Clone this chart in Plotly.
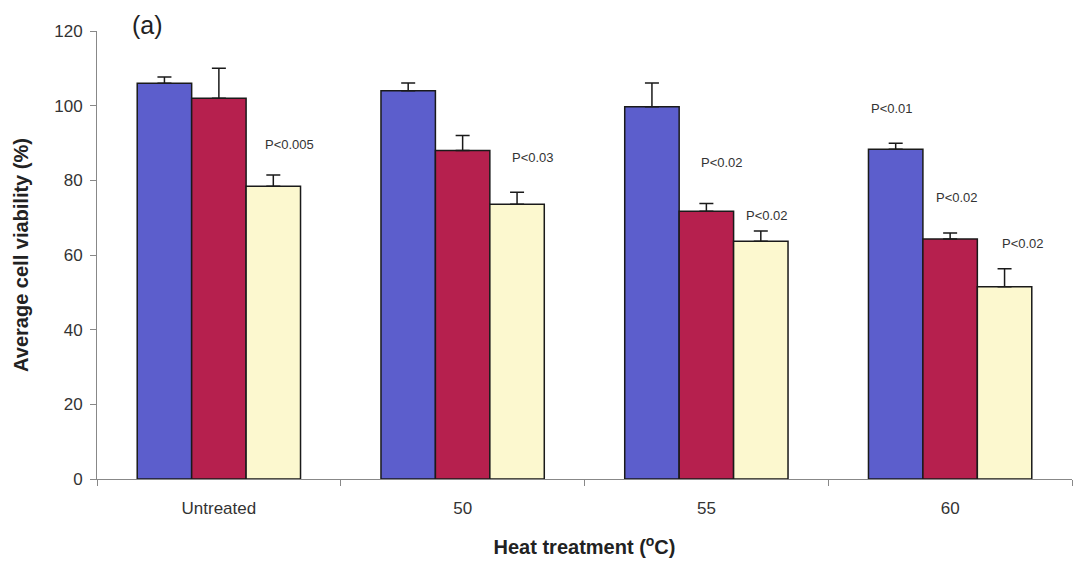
import plotly.graph_objects as go

categories = ["Untreated", "50", "55", "60"]
series_names = ["Series A", "Series B", "Series C"]
values_blue = [106, 104, 99.7, 88.3]
errors_blue = [1.7, 2.1, 6.4, 1.6]
values_red = [102, 88, 71.7, 64.3]
errors_red = [8, 4, 2.1, 1.6]
values_yellow = [78.4, 73.6, 63.7, 51.5]
errors_yellow = [3, 3.2, 2.7, 4.8]

p_labels = ["P<0.005", "P<0.03", "P<0.02", "P<0.02", "P<0.01", "P<0.02", "P<0.02"]
p_category = [0, 1, 2, 2, 3, 3, 3]
p_offset = [0.29, 0.29, 0.065, 0.25, -0.24, 0.03, 0.30]
p_y = [89.6, 86, 84.8, 70.7, 99.2, 75.5, 63.2]

colors = ["#5c5ecc", "#b6204e", "#fcf8cf"]
FONT = "Arial, Liberation Sans, sans-serif"

fig = go.Figure()
for name, vals, errs, col in zip(series_names,
                                 [values_blue, values_red, values_yellow],
                                 [errors_blue, errors_red, errors_yellow],
                                 colors):
    fig.add_trace(go.Bar(
        x=categories, y=vals, name=name,
        marker=dict(color=col, line=dict(color="#1a1a1a", width=1.5)),
        error_y=dict(type="data", symmetric=False, array=errs,
                     arrayminus=[0] * len(errs), color="#1a1a1a",
                     thickness=1.5, width=7),
    ))

annotations = []
for lab, ci, off, yy in zip(p_labels, p_category, p_offset, p_y):
    annotations.append(dict(x=ci + off, y=yy, xref="x", yref="y", text=lab,
                            showarrow=False,
                            font=dict(family=FONT, size=13, color="#333333")))
annotations.append(dict(xref="x domain", yref="y domain", x=0.034, y=1.013,
                        text="(a)", showarrow=False, xanchor="left", yanchor="middle",
                        font=dict(family=FONT, size=25, color="#222222")))

fig.update_layout(
    width=1090, height=566,
    margin=dict(l=97, r=18, t=31, b=85),
    paper_bgcolor="white", plot_bgcolor="white",
    barmode="group", bargap=0.33, bargroupgap=0,
    showlegend=False,
    font=dict(family=FONT, size=17, color="#333333"),
    annotations=annotations,
)
fig.update_xaxes(
    type="category", showline=True, linecolor="#888888", linewidth=1,
    ticks="outside", tickson="boundaries", ticklen=6, tickcolor="#888888",
    showgrid=False, tickfont=dict(family=FONT, size=17, color="#333333"),
    ticklabelstandoff=14,
    title=dict(text="<b>Heat treatment (<sup>o</sup>C)</b>",
               font=dict(family=FONT, size=20, color="#222222"), standoff=22),
)
fig.update_yaxes(
    range=[0, 120], dtick=20, showline=True, linecolor="#888888", linewidth=1,
    ticks="outside", ticklen=6, tickcolor="#888888", showgrid=False, zeroline=False,
    tickfont=dict(family=FONT, size=17, color="#333333"),
    ticklabelstandoff=4,
    title=dict(text="<b>Average cell viability (%)</b>",
               font=dict(family=FONT, size=20, color="#222222"), standoff=20),
)

fig.write_html("out.html")
